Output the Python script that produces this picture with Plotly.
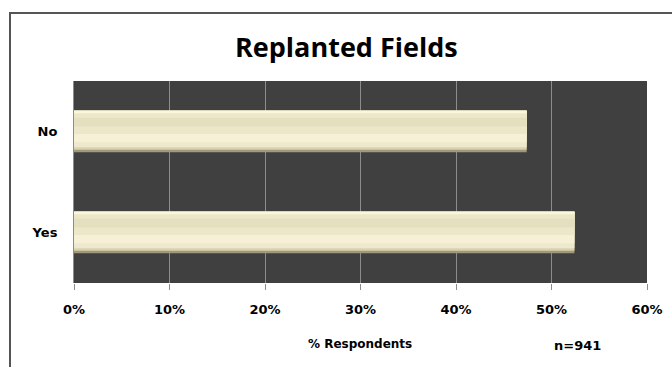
import plotly.graph_objects as go

# Survey answers and share of respondents (%)
answers = ["Yes", "No"]
share_pct = [52.4, 47.4]
tick_vals = [0, 10, 20, 30, 40, 50, 60]
tick_text = ["0%", "10%", "20%", "30%", "40%", "50%", "60%"]
axis_label = "% Respondents"
sample_note = "n=941"

TITLE_FONT = "Open Sans"
LABEL_FONT = "DejaVu Sans"
BAR_W = 0.41

# Vertical shading of the bevelled bars, top to bottom:
# (start fraction, end fraction, colour)
shading = [
    (0.00, 1.00, "#A1997A"),
    (0.00, 0.94, "#D8D2B2"),
    (0.00, 0.88, "#EEE9CD"),
    (0.00, 0.76, "#F6F1D6"),
    (0.00, 0.56, "#ECE7C9"),
    (0.00, 0.38, "#E4DFBF"),
    (0.00, 0.17, "#ECE7C8"),
    (0.00, 0.06, "#FBF7DA"),
]

fig = go.Figure()
for a, b, col in shading:
    fig.add_trace(go.Bar(
        y=answers, x=share_pct, orientation="h",
        width=(b - a) * BAR_W, offset=BAR_W / 2 - b * BAR_W,
        marker=dict(color=col, line=dict(width=0)),
        hoverinfo="skip", showlegend=False,
    ))

PL, PR, PT, PB = 74, 647, 81, 283   # plot area in pixels
pw, ph = PR - PL, PB - PT

def px_x(x):
    return (x - PL) / pw

def px_y(y):
    return (PB - y) / ph

label_font = dict(family=LABEL_FONT, size=13, color="black", weight="bold")

fig.update_layout(
    width=672, height=367,
    margin=dict(l=PL, r=672 - PR, t=PT, b=367 - PB),
    paper_bgcolor="white",
    plot_bgcolor="#404040",
    barmode="overlay",
    showlegend=False,
    xaxis=dict(
        range=[0, 60],
        tickvals=tick_vals, ticktext=tick_text,
        tickfont=label_font,
        showgrid=True, gridcolor="#8C8C8C", gridwidth=1,
        zeroline=False,
        ticks="outside", ticklen=6, tickcolor="#8C8C8C",
        ticklabelstandoff=8,
        showline=False,
        automargin=False,
        fixedrange=True,
    ),
    yaxis=dict(
        categoryorder="array", categoryarray=answers,
        tickfont=label_font,
        ticks="", ticklabelstandoff=13,
        showgrid=False, zeroline=False,
        showline=True, linecolor="#8C8C8C", linewidth=1,
        range=[-0.5, 1.5],
        automargin=False,
        fixedrange=True,
    ),
    shapes=[
        # outer chart frame
        dict(type="rect", xref="paper", yref="paper",
             x0=px_x(10), x1=px_x(700),
             y0=px_y(400), y1=px_y(13),
             line=dict(color="#555555", width=2),
             fillcolor="rgba(0,0,0,0)", layer="below"),
    ],
    annotations=[
        dict(text="<b>Replanted Fields</b>", xref="paper", yref="paper",
             x=px_x(346), y=px_y(46), xanchor="center", yanchor="middle",
             showarrow=False, font=dict(family=TITLE_FONT, size=27, color="black")),
        dict(text="<b>" + axis_label + "</b>", xref="paper", yref="paper",
             x=px_x(360), y=px_y(344), xanchor="center", yanchor="middle",
             showarrow=False, font=dict(family=LABEL_FONT, size=12, color="black")),
        dict(text="<b>" + sample_note + "</b>", xref="paper", yref="paper",
             x=px_x(577), y=px_y(345), xanchor="center", yanchor="middle",
             showarrow=False, font=dict(family=LABEL_FONT, size=13, color="black")),
    ],
)

fig.write_html("out.html")
